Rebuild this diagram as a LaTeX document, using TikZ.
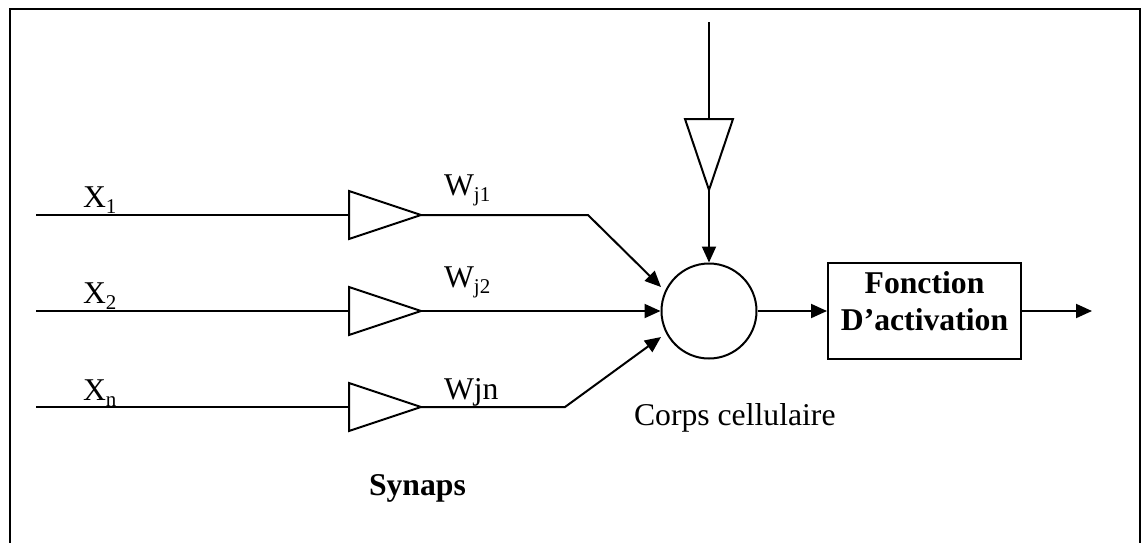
\documentclass[tikz,border=0pt]{standalone}
\usepackage{fontspec}
\setmainfont{Liberation Serif}
\usetikzlibrary{arrows.meta}
\newcommand\mysub[1]{\raisebox{-0.19em}{\fontsize{21}{21}\selectfont #1}}
\begin{document}
\begin{tikzpicture}[x=1pt,y=-1pt,line width=2pt,
  arr/.style={-{Triangle[length=16pt,width=14pt]}},
  lbl/.style={inner sep=0pt,anchor=base west,font=\fontsize{31.7}{36}\selectfont},
  blbl/.style={inner sep=0pt,anchor=base,font=\fontsize{31.7}{36}\selectfont\bfseries},
  synbox/.style={draw,line join=miter}]
\useasboundingbox (0,0) rectangle (1143,542);
% frame
\draw[line width=2.5pt] (10,560) -- (10,9) -- (1140,9) -- (1140,560);
% cell body and activation box
\node[draw,circle,inner sep=0pt,minimum size=95pt] (sum) at (709,311) {};
\node[draw,rectangle,inner sep=0pt,minimum width=193pt,minimum height=96pt] (act) at (924.5,311) {};
\node[blbl] (f1) at (924.5,293) {Fonction};
\node[blbl] (f2) at (924.5,330) {D’activation};
% coordinates
\coordinate (in1) at (36,215);  \coordinate (b1) at (349,215); \coordinate (t1) at (421,215); \coordinate (k1) at (588,215); \coordinate (a1) at (661,287);
\coordinate (in2) at (36,311);  \coordinate (b2) at (349,311); \coordinate (t2) at (421,311);
\coordinate (in3) at (36,407);  \coordinate (b3) at (349,407); \coordinate (t3) at (421,407); \coordinate (k3) at (565,407); \coordinate (a3) at (661,337);
\coordinate (top) at (709,22);  \coordinate (b0) at (709,119); \coordinate (t0) at (709,190);
\coordinate (out) at (1092,311);
% synapse triangles
\draw[synbox] (349,191) -- (349,239) -- (t1) -- cycle;
\draw[synbox] (349,287) -- (349,335) -- (t2) -- cycle;
\draw[synbox] (349,383) -- (349,431) -- (t3) -- cycle;
\draw[synbox] (685,119) -- (733,119) -- (t0) -- cycle;
% connectors
\draw (in1) -- (b1);
\draw (in2) -- (b2);
\draw (in3) -- (b3);
\draw[arr] (t1) -- (k1) -- (a1);
\draw[arr] (t2) -- (sum.west);
\draw[arr] (t3) -- (k3) -- (a3);
\draw (top) -- (b0);
\draw[arr] (t0) -- (sum.north);
\draw[arr] (sum.east) -- (act.west);
\draw[arr] (act.east) -- (out);
% labels
\node[lbl] (x1) at (82,207) {X\mysub{1}};
\node[lbl] (x2) at (82,303) {X\mysub{2}};
\node[lbl] (xn) at (82,400) {X\mysub{n}};
\node[lbl] (w1) at (443,195) {W\mysub{j1}};
\node[lbl] (w2) at (443,287) {W\mysub{j2}};
\node[lbl] (wn) at (443,399) {Wjn};
\node[lbl] (corps) at (633,425) {Corps cellulaire};
\node[lbl,font=\fontsize{31.7}{36}\selectfont\bfseries] (syn) at (368,495) {Synaps};
\end{tikzpicture}
\end{document}
